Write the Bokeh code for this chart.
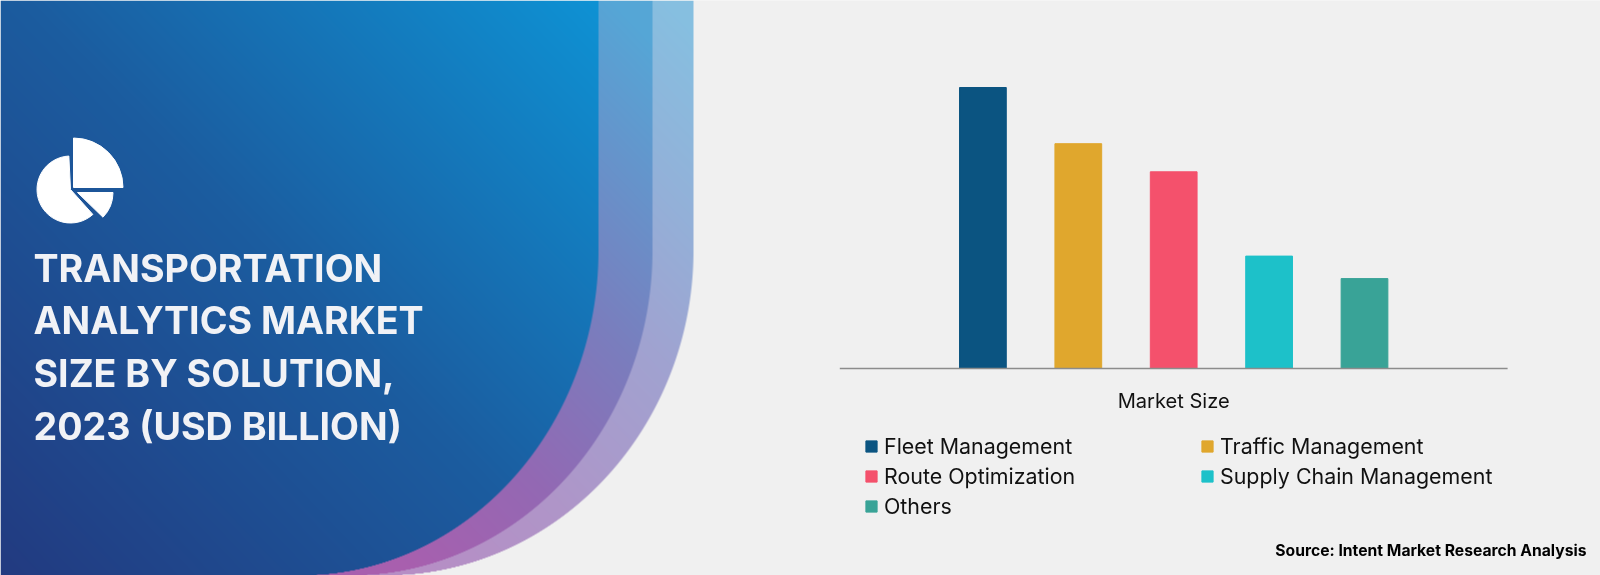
import numpy as np
from bokeh.embed import file_html
from bokeh.resources import INLINE
from bokeh.plotting import figure
from bokeh.models import Range1d, ColumnDataSource, Legend, LegendItem
from bokeh.core.properties import value

W, H = 1600, 575
BG = "#f0f0f0"

categories = ["Fleet Management", "Traffic Management", "Route Optimization", "Supply Chain Management", "Others"]
market_size = [5.0, 4.0, 3.5, 2.0, 1.6]
colors = ["#0b5481", "#e0a72d", "#f4516c", "#1dc1c9", "#39a397"]
title_lines = ["TRANSPORTATION", "ANALYTICS MARKET", "SIZE BY SOLUTION,", "2023 (USD BILLION)"]
title_baselines = [268, 320, 373, 426]
axis_title = "Market Size"
source_note = "Source: Intent Market Research Analysis"


def hex_rgb(c):
    return np.array([int(c[i:i + 2], 16) for i in (1, 3, 5)], dtype=float)


def ramp(t, stops):
    ts = [s[0] for s in stops]
    cs = np.array([hex_rgb(s[1]) for s in stops])
    return np.stack([np.interp(t, ts, cs[:, i]) for i in range(3)], axis=-1)


def backdrop():
    xs = np.arange(W) + 0.5
    ys = np.arange(H) + 0.5
    X, Y = np.meshgrid(xs, ys)
    t = (X * 600 + (575 - Y) * 575) / (600 ** 2 + 575 ** 2)
    img = np.empty((H, W, 3))
    img[:] = hex_rgb(BG)
    bands = [
        (385, 308, 250, 325, [(.373, "#b68ec5"), (.54, "#af95c8"), (.752, "#a0a2d0"), (.894, "#93b0d8"), (1.056, "#86bfe0")]),
        (350, 302, 250, 325, [(.36, "#a85fae"), (.54, "#9368b3"), (.726, "#7a7dbd"), (1.01, "#55a6d6")]),
        (300, 298, 250, 325, [(0, "#223a80"), (.5, "#1b5c9f"), (1, "#0e92d4")]),
    ]
    for x0, a, y0, b, stops in bands:
        q = np.clip((Y - y0) / b, 0, 1)
        edge = x0 + a * np.sqrt(np.clip(1 - q ** 2, 0, 1))
        cov = np.clip(edge - X + .5, 0, 1)[..., None]
        img = img * (1 - cov) + ramp(t, stops) * cov
    rgba = np.empty((H, W), dtype=np.uint32)
    view = rgba.view(dtype=np.uint8).reshape((H, W, 4))
    view[..., :3] = np.round(img[::-1]).astype(np.uint8)
    view[..., 3] = 255
    return rgba


p = figure(width=W, height=H, x_range=Range1d(0, W), y_range=Range1d(0, H),
           output_backend="svg", toolbar_location=None, min_border=0,
           background_fill_color=BG, border_fill_color=BG, outline_line_color=None)
p.styles = {"position": "fixed", "left": "0", "top": "0"}
p.xaxis.visible = False
p.yaxis.visible = False
p.grid.visible = False

p.image_rgba(image=[backdrop()], x=0, y=0, dw=W, dh=H)

# pie icon
for cx, cy, r, a0, a1 in [(70, 189, 33.5, 1.62, -0.84), (73, 187, 49.5, 0, np.pi / 2), (77, 192, 35.5, -0.77, 0)]:
    p.wedge(x=cx, y=H - cy, radius=r, start_angle=a0, end_angle=a1, color="white", line_color="white", line_width=1)

for line, base in zip(title_lines, title_baselines):
    p.text(x=[33], y=[H - base], text=[line], text_font=value("Inter"), text_font_style="bold",
           text_font_size="37.6px", text_color="#f1f2f6", text_baseline="alphabetic")

# bars on their own scale
px_per_unit = 56.2
step = 95.4
base_y = 368
first_x = 982.4
p.extra_y_ranges["value"] = Range1d(-(H - base_y) / px_per_unit, base_y / px_per_unit)
p.extra_x_ranges["cat"] = Range1d(-first_x / step, (W - first_x) / step)
src = ColumnDataSource(dict(x=list(range(len(categories))), top=market_size, color=colors, name=categories))
bars = p.vbar(x="x", top="top", bottom=0, width=0.49, color="color", source=src,
              x_range_name="cat", y_range_name="value")
p.segment(x0=[-1.5], x1=[5.5], y0=[0], y1=[0], line_color="#8c8c8c", line_width=1.5,
          x_range_name="cat", y_range_name="value")

p.text(x=[2], y=[H - 400], text=[axis_title], x_range_name="cat", text_font=value("Inter"),
       text_font_size="20.1px", text_color="#111111", text_align="center", text_baseline="middle")
p.text(x=[1586], y=[H - 550], text=[source_note], text_font=value("Inter"), text_font_style="bold",
       text_font_size="15.7px", text_color="#000000", text_align="right", text_baseline="middle")

items = [LegendItem(label=value(c), renderers=[bars], index=i) for i, c in enumerate(categories)]
legend = Legend(items=items, location=(864, H - 519), ncols=2, orientation="horizontal",
                background_fill_alpha=0, border_line_color=None, padding=0, margin=0, spacing=4,
                glyph_width=14, glyph_height=14, label_standoff=6, label_height=20, label_width=312,
                label_text_font="Inter", label_text_font_size="21.4px", label_text_color="#111111",
                label_text_baseline="middle")
p.add_layout(legend, "center")

open("out.html", "w").write(file_html(p, INLINE))
